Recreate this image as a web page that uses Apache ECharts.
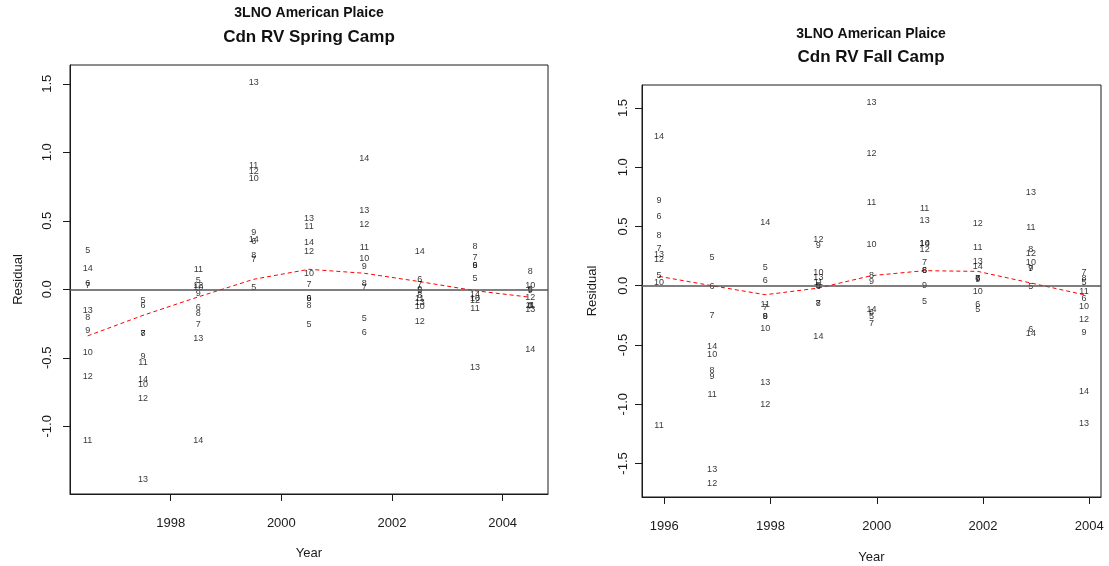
<!DOCTYPE html>
<html>
<head>
<meta charset="utf-8">
<script src="https://cdn.jsdelivr.net/npm/echarts@6.0.0/dist/echarts.min.js"></script>
<style>
  html, body { margin: 0; padding: 0; background: #fff; }
  #chart { width: 1109px; height: 566px; }
</style>
</head>
<body>
<div id="chart"></div>
<script>
// Ages used as plotting labels
const ages = [5, 6, 7, 8, 9, 10, 11, 12, 13, 14];

// Spring survey: one row per age, one column per survey year
const springYears = [1996.5, 1997.5, 1998.5, 1999.5, 2000.5, 2001.5, 2002.5, 2003.5, 2004.5];
const springResidual = [
  [0.28, -0.085, 0.063, 0.01, -0.255, -0.212, -0.01, 0.08, -0.005],
  [0.045, -0.122, -0.131, 0.35, -0.07, -0.317, 0.068, 0.177, -0.12],
  [0.03, -0.32, -0.26, 0.215, 0.036, 0.015, 0.036, 0.234, -0.125],
  [-0.204, -0.32, -0.175, 0.245, -0.115, 0.044, -0.042, 0.311, 0.128],
  [-0.302, -0.487, -0.03, 0.413, -0.065, 0.165, 0.0, 0.177, -0.01],
  [-0.463, -0.696, 0.01, 0.81, 0.117, 0.223, -0.125, -0.066, 0.031],
  [-1.105, -0.533, 0.146, 0.902, 0.457, 0.304, -0.066, -0.139, -0.115],
  [-0.638, -0.796, 0.03, 0.858, 0.274, 0.472, -0.236, -0.085, -0.058],
  [-0.156, -1.387, -0.36, 1.508, 0.518, 0.574, -0.095, -0.574, -0.151],
  [0.155, -0.657, -1.105, 0.36, 0.34, 0.953, 0.274, -0.036, -0.438]
];
const springTrend = [-0.34, -0.19, -0.055, 0.073, 0.146, 0.117, 0.056, -0.01, -0.058];

// Fall survey: one row per age, one column per survey year
const fallYears = [1995.9, 1996.9, 1997.9, 1998.9, 1999.9, 2000.9, 2001.9, 2002.9, 2003.9];
const fallResidual = [
  [0.084, 0.239, 0.152, 0.0, -0.26, -0.133, -0.203, -0.006, 0.028],
  [0.58, -0.003, 0.04, -0.01, -0.23, 0.127, -0.155, -0.366, -0.104],
  [0.318, -0.253, -0.18, -0.152, -0.315, 0.192, 0.065, 0.144, 0.112],
  [0.425, -0.718, -0.26, -0.152, 0.087, 0.127, 0.059, 0.304, 0.065],
  [0.72, -0.766, -0.26, 0.34, 0.036, 0.0, 0.052, 0.144, -0.394],
  [0.023, -0.577, -0.357, 0.112, 0.352, 0.36, -0.048, 0.2, -0.175],
  [-1.18, -0.92, -0.16, 0.03, 0.699, 0.648, 0.324, 0.492, -0.048],
  [0.225, -1.667, -1.0, 0.394, 1.112, 0.304, 0.521, 0.268, -0.287],
  [0.262, -1.554, -0.82, 0.07, 1.548, 0.552, 0.205, 0.783, -1.16],
  [1.26, -0.512, 0.532, -0.428, -0.197, 0.36, 0.158, -0.405, -0.893]
];
const fallTrend = [0.079, 0.0, -0.076, -0.02, 0.085, 0.127, 0.121, 0.023, -0.076];

// Tick labels
const springXTicks = [1998, 2000, 2002, 2004];
const springYTicks = [-1.0, -0.5, 0.0, 0.5, 1.0, 1.5];
const fallXTicks = [1996, 1998, 2000, 2002, 2004];
const fallYTicks = [-1.5, -1.0, -0.5, 0.0, 0.5, 1.0, 1.5];

const FONT = '"Liberation Sans", Arial, Helvetica, sans-serif';
const INK = '#1a1a1a';

function xAxisFor(grid, min, max, ticks, labelGap, nameGap) {
  return {
    gridIndex: grid, type: 'value', min: min, max: max,
    axisLine: { show: true, onZero: false, lineStyle: { color: INK, width: 1 } },
    axisTick: { show: true, customValues: ticks, length: 7, lineStyle: { color: INK } },
    axisLabel: { customValues: ticks, margin: labelGap, fontSize: 13, color: INK, fontFamily: FONT,
                 formatter: v => String(v) },
    splitLine: { show: false },
    name: 'Year', nameLocation: 'middle', nameGap: nameGap,
    nameTextStyle: { fontSize: 13, color: INK, fontFamily: FONT }
  };
}

function yAxisFor(grid, min, max, ticks, labelGap, nameGap) {
  return {
    gridIndex: grid, type: 'value', min: min, max: max,
    axisLine: { show: true, onZero: false, lineStyle: { color: INK, width: 1 } },
    axisTick: { show: true, customValues: ticks, length: 7, lineStyle: { color: INK } },
    axisLabel: { customValues: ticks, rotate: 90, margin: labelGap, fontSize: 13, color: INK, fontFamily: FONT,
                 formatter: v => v.toFixed(1) },
    splitLine: { show: false },
    name: 'Residual', nameLocation: 'middle', nameRotate: 90, nameGap: nameGap,
    nameTextStyle: { fontSize: 13, color: INK, fontFamily: FONT }
  };
}

function panelSeries(idx, years, resid, trend) {
  const pts = [];
  ages.forEach((age, i) => {
    years.forEach((yr, j) => pts.push([yr, resid[i][j], String(age)]));
  });
  return [
    {
      type: 'line', xAxisIndex: idx, yAxisIndex: idx,
      data: years.map((yr, j) => [yr, trend[j]]),
      symbol: 'none', silent: true, z: 2,
      lineStyle: { color: '#ff0000', type: [4, 3], width: 1 },
      markLine: {
        silent: true, symbol: ['none', 'none'], label: { show: false },
        lineStyle: { color: '#555', type: 'solid', width: 1.5 },
        data: [{ yAxis: 0 }]
      }
    },
    {
      type: 'scatter', xAxisIndex: idx, yAxisIndex: idx,
      data: pts, symbolSize: 1, z: 3,
      itemStyle: { color: 'rgba(0,0,0,0)' },
      label: {
        show: true, position: 'inside', formatter: p => p.value[2],
        fontSize: 9, color: '#000', fontFamily: FONT
      }
    }
  ];
}

function titleText(x, y, text, size) {
  return {
    type: 'text', x: x, y: y,
    style: { text: text, fontSize: size, fontWeight: 'bold', fill: '#111', fontFamily: FONT,
             align: 'center', verticalAlign: 'middle' }
  };
}

const chart = echarts.init(document.getElementById('chart'), null, { renderer: 'canvas' });
chart.setOption({
  animation: false,
  backgroundColor: '#fff',
  grid: [
    { left: 70, top: 65, width: 478, height: 429, show: true, borderColor: INK, borderWidth: 1,
      outerBoundsMode: 'none', containLabel: false },
    { left: 642, top: 85, width: 459, height: 412, show: true, borderColor: INK, borderWidth: 1,
      outerBoundsMode: 'none', containLabel: false }
  ],
  xAxis: [
    xAxisFor(0, 1996.18, 2004.82, springXTicks, 23, 53),
    xAxisFor(1, 1995.58, 2004.22, fallXTicks, 23, 54)
  ],
  yAxis: [
    yAxisFor(0, -1.494, 1.637, springYTicks, 16, 45),
    yAxisFor(1, -1.783, 1.694, fallYTicks, 12, 43)
  ],
  graphic: [
    titleText(309, 13, '3LNO American Plaice', 14),
    titleText(309, 37, 'Cdn RV Spring Camp', 17),
    titleText(871, 34, '3LNO American Plaice', 14),
    titleText(871, 57, 'Cdn RV Fall Camp', 17)
  ],
  series: [
    ...panelSeries(0, springYears, springResidual, springTrend),
    ...panelSeries(1, fallYears, fallResidual, fallTrend)
  ]
});
</script>
</body>
</html>
